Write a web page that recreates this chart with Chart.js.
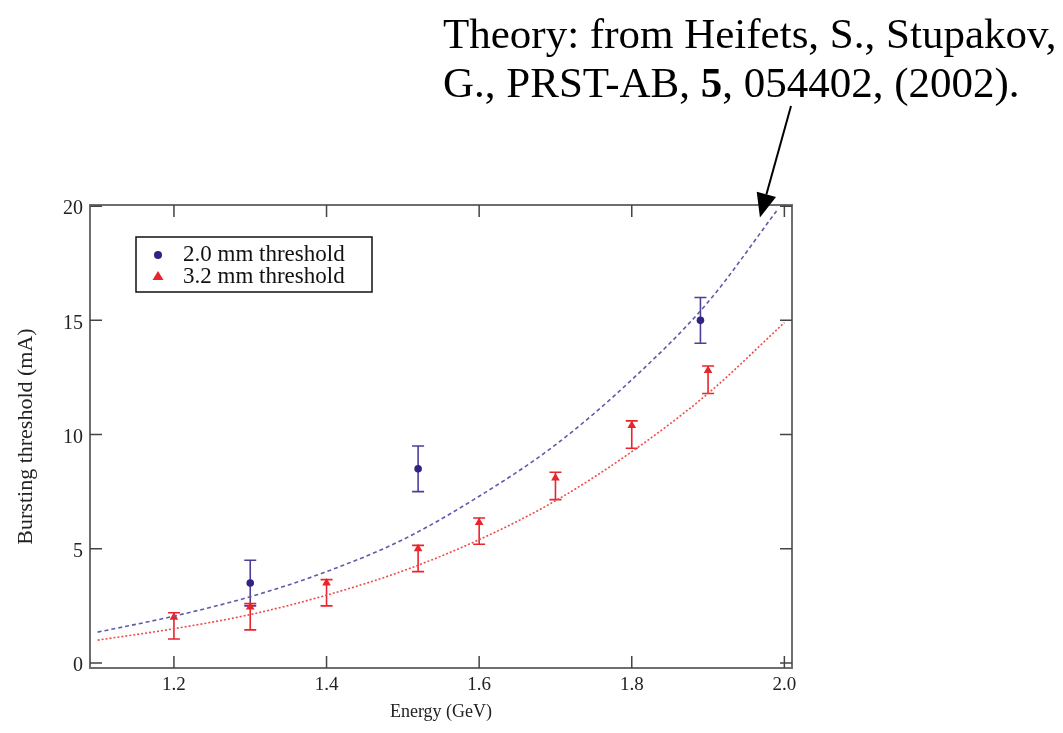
<!DOCTYPE html>
<html>
<head>
<meta charset="utf-8">
<title>Bursting threshold vs energy</title>
<script src="https://cdn.jsdelivr.net/npm/chart.js@4/dist/chart.umd.min.js"></script>
<style>
  html, body { margin: 0; padding: 0; background: #ffffff; }
  #wrap { position: relative; width: 1063px; height: 733px; }
</style>
</head>
<body>
<div id="wrap"><canvas id="burstChart"></canvas></div>
<script>
const energy20 = [1.3, 1.52, 1.89];
const thresh20 = [3.5, 8.5, 15.0];
const err20Low = [1.0, 1.0, 1.0];
const err20High = [1.0, 1.0, 1.0];

const energy32 = [1.2, 1.3, 1.4, 1.52, 1.6, 1.7, 1.8, 1.9];
const thresh32 = [2.0, 2.45, 3.5, 5.0, 6.15, 8.1, 10.4, 12.8];
const err32Low = [0.95, 1.0, 1.0, 1.0, 0.95, 0.95, 1.0, 1.0];
const err32High = [0.2, 0.15, 0.15, 0.15, 0.2, 0.25, 0.2, 0.2];

// theory curves (Heifets & Stupakov), read at these energies
const theoryEnergy20 = [1.1, 1.2, 1.3, 1.4, 1.5, 1.6, 1.7, 1.8, 1.9, 1.99];
const theory20 = [1.35, 2.05, 2.9, 4.0, 5.4, 7.3, 9.55, 12.4, 15.8, 19.8];
const theoryEnergy32 = [1.1, 1.2, 1.3, 1.4, 1.5, 1.6, 1.7, 1.8, 1.9, 2.0];
const theory32 = [1.0, 1.5, 2.12, 2.97, 4.03, 5.4, 7.1, 9.25, 11.8, 14.9];

// axis ticks
const xTicks = [1.2, 1.4, 1.6, 1.8, 2.0];
const yTicks = [0, 5, 10, 15, 20];

const legendLabels = ['2.0 mm threshold', '3.2 mm threshold'];

const BLUE = '#2f2384';
const BLUE_LINE = '#5f5aaa';
const RED = '#e8242c';
const RED_LINE = '#ee4a4a';
const SERIF = '"Liberation Serif", "DejaVu Serif", serif';

const toXY = (xs, ys) => xs.map((x, i) => ({ x: x, y: ys[i] }));

// error bars with caps, drawn through the scales
const errorBars = {
  id: 'errorBars',
  beforeDatasetsDraw(chart) {
    const { ctx, scales: { x, y } } = chart;
    chart.data.datasets.forEach((ds) => {
      if (!ds.errLow) return;
      ctx.save();
      ctx.strokeStyle = ds.errColor;
      ctx.lineWidth = 1.6;
      ds.data.forEach((p, i) => {
        const px = x.getPixelForValue(p.x);
        const top = y.getPixelForValue(p.y + ds.errHigh[i]);
        const bot = y.getPixelForValue(p.y - ds.errLow[i]);
        ctx.beginPath();
        ctx.moveTo(px, top); ctx.lineTo(px, bot);
        ctx.moveTo(px - 6, top); ctx.lineTo(px + 6, top);
        ctx.moveTo(px - 6, bot); ctx.lineTo(px + 6, bot);
        ctx.stroke();
      });
      ctx.restore();
    });
  }
};

// box frame with inward ticks on all four sides
const frame = {
  id: 'frame',
  afterDatasetsDraw(chart) {
    const { ctx, chartArea: a, scales: { x, y } } = chart;
    ctx.save();
    ctx.strokeStyle = '#6e6e6e';
    ctx.lineWidth = 2;
    ctx.strokeRect(a.left, a.top, a.right - a.left, a.bottom - a.top);
    ctx.strokeStyle = '#444';
    ctx.lineWidth = 1.5;
    ctx.beginPath();
    xTicks.forEach((v) => {
      const px = x.getPixelForValue(v);
      ctx.moveTo(px, a.bottom); ctx.lineTo(px, a.bottom - 12);
      ctx.moveTo(px, a.top); ctx.lineTo(px, a.top + 12);
    });
    yTicks.forEach((v) => {
      const py = y.getPixelForValue(v);
      ctx.moveTo(a.left, py); ctx.lineTo(a.left + 12, py);
      ctx.moveTo(a.right, py); ctx.lineTo(a.right - 12, py);
    });
    ctx.stroke();
    ctx.restore();
  }
};

// boxed legend inside the plot + the reference note with its arrow
const notes = {
  id: 'notes',
  afterDraw(chart) {
    const { ctx, scales: { x, y } } = chart;
    ctx.save();

    // legend
    ctx.fillStyle = '#fff';
    ctx.fillRect(136, 237, 236, 55);
    ctx.strokeStyle = '#111';
    ctx.lineWidth = 1.5;
    ctx.strokeRect(136, 237, 236, 55);
    ctx.font = '23px ' + SERIF;
    ctx.textBaseline = 'alphabetic';
    ctx.fillStyle = '#111';
    ctx.fillText(legendLabels[0], 183, 261);
    ctx.fillText(legendLabels[1], 183, 283);
    ctx.fillStyle = BLUE;
    ctx.beginPath(); ctx.arc(158, 255, 4, 0, Math.PI * 2); ctx.fill();
    ctx.fillStyle = RED;
    ctx.beginPath();
    ctx.moveTo(158, 271); ctx.lineTo(163.5, 280); ctx.lineTo(152.5, 280);
    ctx.closePath(); ctx.fill();

    // reference text
    ctx.fillStyle = '#000';
    ctx.font = '43px ' + SERIF;
    ctx.fillText('Theory: from Heifets, S., Stupakov,', 443, 48);
    let tx = 443;
    const parts = [['G., PRST-AB, ', false], ['5', true], [', 054402, (2002).', false]];
    parts.forEach(([t, bold]) => {
      ctx.font = (bold ? 'bold ' : '') + '43px ' + SERIF;
      ctx.fillText(t, tx, 97);
      tx += ctx.measureText(t).width;
    });

    // arrow to the end of the 2.0 mm theory curve
    const tipX = x.getPixelForValue(1.968);
    const tipY = y.getPixelForValue(19.5);
    const tailX = 791, tailY = 106;
    const ang = Math.atan2(tipY - tailY, tipX - tailX);
    const hl = 24, hw = 10;
    const bx = tipX - hl * Math.cos(ang), by = tipY - hl * Math.sin(ang);
    ctx.strokeStyle = '#000';
    ctx.lineWidth = 2;
    ctx.beginPath(); ctx.moveTo(tailX, tailY); ctx.lineTo(bx, by); ctx.stroke();
    ctx.beginPath();
    ctx.moveTo(tipX, tipY);
    ctx.lineTo(bx + hw * Math.sin(ang), by - hw * Math.cos(ang));
    ctx.lineTo(bx - hw * Math.sin(ang), by + hw * Math.cos(ang));
    ctx.closePath();
    ctx.fillStyle = '#000';
    ctx.fill();
    ctx.restore();
  }
};

const canvas = document.getElementById('burstChart');

new Chart(canvas.getContext('2d'), {
  type: 'scatter',
  data: {
    datasets: [
      {
        label: 'theory 2.0 mm',
        data: toXY(theoryEnergy20, theory20),
        showLine: true,
        borderColor: BLUE_LINE,
        borderWidth: 1.6,
        borderDash: [4, 3],
        pointRadius: 0,
        cubicInterpolationMode: 'monotone'
      },
      {
        label: 'theory 3.2 mm',
        data: toXY(theoryEnergy32, theory32),
        showLine: true,
        borderColor: RED_LINE,
        borderWidth: 1.6,
        borderDash: [2, 2],
        pointRadius: 0,
        cubicInterpolationMode: 'monotone'
      },
      {
        label: legendLabels[0],
        data: toXY(energy20, thresh20),
        errLow: err20Low,
        errHigh: err20High,
        errColor: '#4b3f9a',
        pointStyle: 'circle',
        pointRadius: 3.8,
        backgroundColor: BLUE,
        borderColor: BLUE,
        borderWidth: 0
      },
      {
        label: legendLabels[1],
        data: toXY(energy32, thresh32),
        errLow: err32Low,
        errHigh: err32High,
        errColor: RED,
        pointStyle: 'triangle',
        pointRadius: 5,
        backgroundColor: RED,
        borderColor: RED,
        borderWidth: 0
      }
    ]
  },
  options: {
    responsive: true,
    maintainAspectRatio: false,
    animation: false,
    layout: { padding: { left: 0, top: 205, right: 271, bottom: 0 } },
    plugins: {
      legend: { display: false },
      tooltip: { enabled: false }
    },
    scales: {
      x: {
        type: 'linear',
        min: 1.09,
        max: 2.01,
        afterBuildTicks: (s) => { s.ticks = xTicks.map((v) => ({ value: v })); },
        afterFit: (s) => { s.height = 65; },
        grid: { display: false, drawTicks: false },
        border: { display: false },
        ticks: {
          font: { family: SERIF, size: 19 },
          color: '#222',
          padding: 6,
          maxRotation: 0,
          callback: (v) => v.toFixed(1)
        },
        title: {
          display: true,
          text: 'Energy (GeV)',
          font: { family: SERIF, size: 18 },
          color: '#222',
          padding: { top: 0, bottom: 10 }
        }
      },
      y: {
        type: 'linear',
        min: -0.22,
        max: 20.05,
        afterBuildTicks: (s) => { s.ticks = yTicks.map((v) => ({ value: v })); },
        afterFit: (s) => { s.width = 90; },
        grid: { display: false, drawTicks: false },
        border: { display: false },
        ticks: {
          font: { family: SERIF, size: 20 },
          color: '#222',
          padding: 7,
          labelOffset: 3
        },
        title: {
          display: true,
          text: 'Bursting threshold (mA)',
          font: { family: SERIF, size: 22 },
          color: '#222',
          padding: { top: 13, bottom: 0 }
        }
      }
    }
  },
  plugins: [errorBars, frame, notes]
});
</script>
</body>
</html>
